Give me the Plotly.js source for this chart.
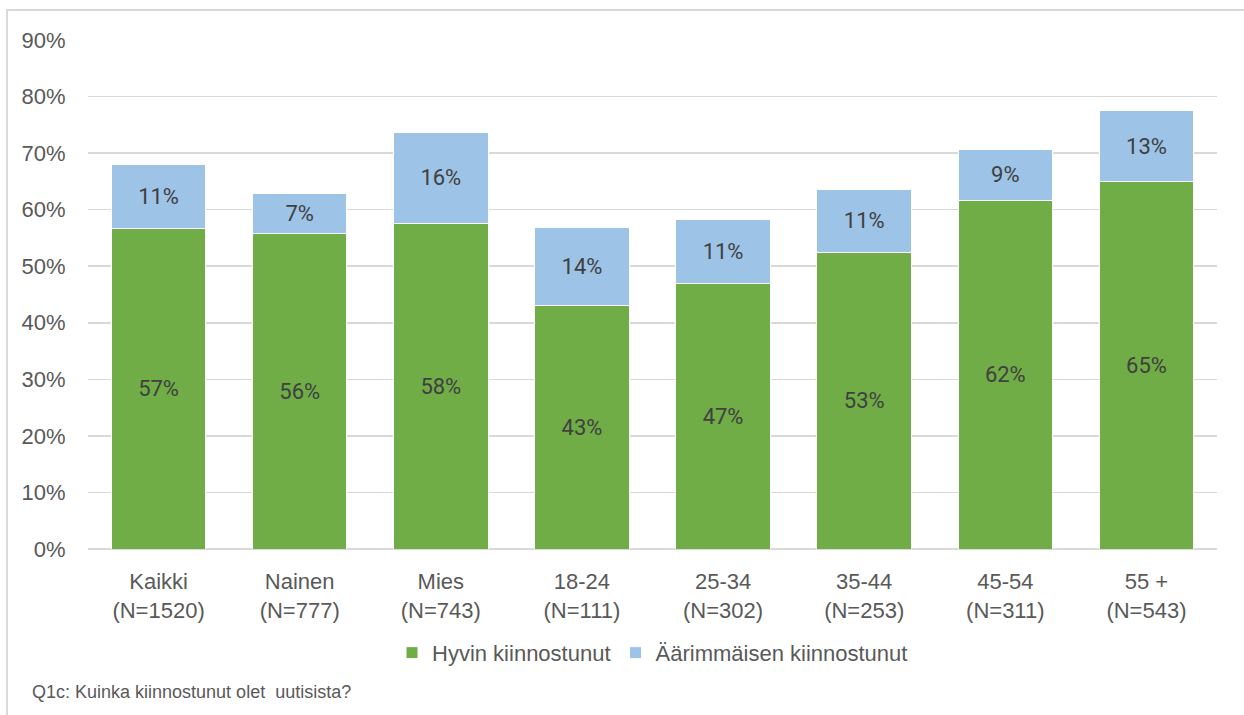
<!DOCTYPE html>
<html>
<head>
<meta charset="utf-8">
<script src="https://cdn.plot.ly/plotly-3.0.1.min.js"></script>
<style>
html,body{margin:0;padding:0;background:#fff;}
#chart{width:1244px;height:715px;}
</style>
</head>
<body>
<div id="chart"></div>
<script>
const categories = ["Kaikki<br>(N=1520)", "Nainen<br>(N=777)", "Mies<br>(N=743)", "18-24<br>(N=111)", "25-34<br>(N=302)", "35-44<br>(N=253)", "45-54<br>(N=311)", "55 +<br>(N=543)"];
const hyvin = [56.6, 55.7, 57.6, 43.1, 46.9, 52.5, 61.7, 64.9];
const aarimmaisen = [11.4, 7.1, 16.1, 13.8, 11.3, 11.1, 9.0, 12.6];
const seriesNames = ["Hyvin kiinnostunut", "Äärimmäisen kiinnostunut"];
const footnote = "Q1c: Kuinka kiinnostunut olet  uutisista?";

const axisFont = {family: "'Liberation Sans Narrow', 'Arial Narrow', Arial, sans-serif", size: 22, color: "#595959"};
const labelFont = {family: "Roboto, sans-serif", size: 22, color: "#404040"};

const traces = [
  {
    type: "bar", name: seriesNames[0], x: categories, y: hyvin,
    marker: {color: "#70AD47", line: {color: "#ffffff", width: 1}},
    texttemplate: "%{y:.0f}%", textposition: "inside", insidetextanchor: "middle",
    textfont: labelFont, hoverinfo: "skip"
  },
  {
    type: "bar", name: seriesNames[1], x: categories, y: aarimmaisen,
    marker: {color: "#9DC3E6", line: {color: "#ffffff", width: 1}},
    texttemplate: "%{y:.0f}%", textposition: "inside", insidetextanchor: "middle",
    textfont: labelFont, hoverinfo: "skip"
  }
];

const layout = {
  width: 1244, height: 715,
  margin: {l: 88, r: 27, t: 40, b: 166},
  barmode: "stack", bargap: 0.33,
  paper_bgcolor: "#fff", plot_bgcolor: "#fff",
  showlegend: true,
  legend: {orientation: "h", x: 0.5, xanchor: "center", y: -0.204, yanchor: "middle",
           font: axisFont, traceorder: "normal", itemwidth: 30},
  xaxis: {tickfont: axisFont, showgrid: false, showline: false, ticks: "outside", ticklen: 13,
          tickcolor: "rgba(0,0,0,0)", fixedrange: true},
  yaxis: {range: [0, 90], dtick: 10, ticksuffix: "%", tickfont: axisFont,
          gridcolor: "#d9d9d9", gridwidth: 1.5, zeroline: true, zerolinecolor: "#d9d9d9", zerolinewidth: 1.5,
          showline: false, ticks: "outside", ticklen: 17, tickcolor: "rgba(0,0,0,0)", automargin: false, fixedrange: true},
  uniformtext: {mode: false},
  annotations: [
    {text: footnote, xref: "paper", yref: "paper", x: -0.0514, y: -0.281, xanchor: "left", yanchor: "middle",
     showarrow: false, font: {family: axisFont.family, size: 18, color: "#595959"}}
  ],
  shapes: [
    {type: "rect", xref: "paper", yref: "paper", x0: -0.0717, x1: 1.03, y0: -0.34, y1: 1.0589,
     line: {color: "#d9d9d9", width: 2}, fillcolor: "rgba(0,0,0,0)", layer: "below"}
  ]
};

Plotly.newPlot("chart", traces, layout, {displayModeBar: false, staticPlot: true});
</script>
</body>
</html>
